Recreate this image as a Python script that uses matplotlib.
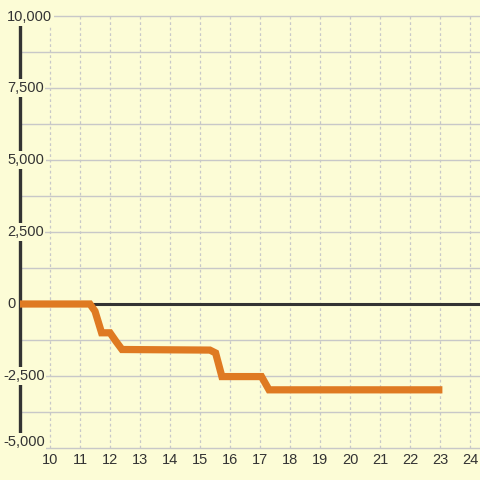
import matplotlib
matplotlib.use("Agg")
import matplotlib.pyplot as plt

# data
hours = [9.0, 11.33, 11.5, 11.72, 12.0, 12.2, 12.4, 15.33, 15.52, 15.73, 17.05, 17.3, 23.08]
values = [0, 0, -250, -1000, -1000, -1300, -1580, -1600, -1700, -2520, -2520, -2980, -2980]
y_ticks = [-5000, -2500, 0, 2500, 5000, 7500, 10000]
y_tick_labels = ["-5,000", "-2,500", "0", "2,500", "5,000", "7,500", "10,000"]
y_grid = [-5000, -3750, -2500, -1250, 0, 1250, 2500, 3750, 5000, 6250, 7500, 8750, 10000]
x_ticks = list(range(10, 25))

BG = "#FCFCD6"
GRID = "#C8C8C8"
DARK = "#333333"
ORANGE = "#DF7A22"

plt.rcParams["font.family"] = ["Liberation Sans", "DejaVu Sans"]

fig = plt.figure(figsize=(4.8, 4.8), dpi=100, facecolor=BG)
ax = fig.add_axes([0, 0, 1, 1])
ax.set_facecolor(BG)
ax.set_xlim(8.3333, 24.3333)
ax.set_ylim(-6111.1, 10555.6)
ax.axis("off")

# horizontal grid
ax.hlines(y_grid, 9, 24.3333, colors=GRID, linewidth=1.0, zorder=1)
# vertical dotted grid
ax.vlines(x_ticks, -5000, 10000, colors=GRID, linewidth=0.9,
          linestyles=(0, (2.2, 2.2)), zorder=1)
# zero line
ax.hlines([0], 9, 24.3333, colors=DARK, linewidth=2.2, zorder=2)
# y axis line
ax.vlines([9], -5000, 10000, colors=DARK, linewidth=2.4, zorder=2)

# data line
ax.plot(hours, values, color=ORANGE, linewidth=5.2, solid_joinstyle="miter",
        solid_capstyle="butt", zorder=3)

# y labels
px_x = 1 / 30.0       # one pixel in hours
px_y = 1000 / 28.8    # one pixel in value units
for v, lab in zip(y_ticks, y_tick_labels):
    x0 = 8.3333 + (3 if lab.startswith("-") else 7) * px_x
    yy = v
    if v == -5000:
        yy = v + 6 * px_y
    elif v == 10000:
        yy = v - 1 * px_y
    ax.text(x0, yy, lab, ha="left", va="center", fontsize=10.5, color=DARK,
            zorder=4,
            bbox=dict(boxstyle="square,pad=0.12", facecolor=BG, edgecolor="none"))

# x labels
for h in x_ticks:
    ax.text(h, -5420, str(h), ha="center", va="center", fontsize=10.5,
            color=DARK, zorder=4)

fig.savefig("out.png", dpi=100, facecolor=BG)
